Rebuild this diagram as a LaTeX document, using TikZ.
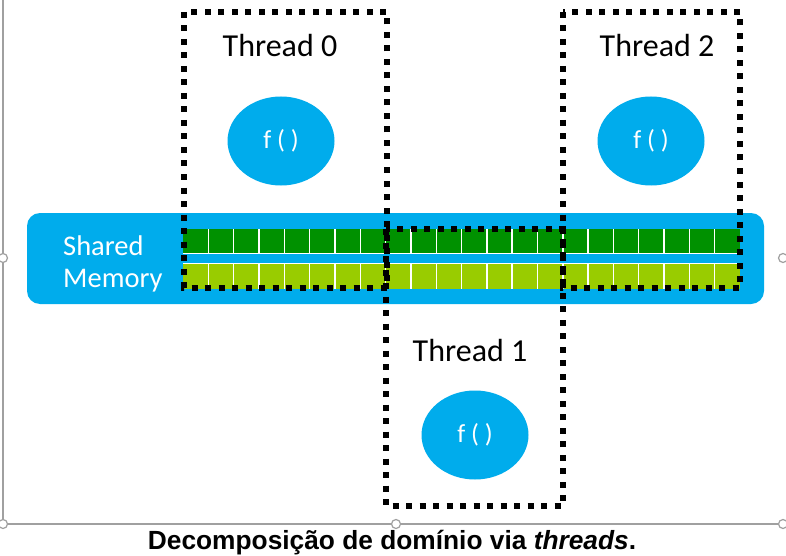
\documentclass[tikz,border=0pt]{standalone}
\usepackage{fontspec}
\setmainfont{Carlito}
\newfontfamily\capfont{Liberation Sans}
\definecolor{membl}{RGB}{0,172,236}
\definecolor{dkgr}{RGB}{0,145,0}
\definecolor{ltgr}{RGB}{153,204,0}
\definecolor{selgray}{RGB}{160,160,160}
\tikzset{
  dotbox/.style={draw=black,line width=6pt,dash pattern=on 6pt off 7.5pt},
  fellipse/.style={ellipse,fill=membl,minimum width=107pt,minimum height=89pt,inner sep=0pt,text=white,font=\fontsize{26}{30}\selectfont},
  tlabel/.style={anchor=base,font=\fontsize{32}{38}\selectfont,text=black},
  handle/.style={circle,draw=selgray,fill=white,line width=1.2pt,minimum size=9pt,inner sep=0pt}
}
\usetikzlibrary{shapes.geometric}
\begin{document}
\begin{tikzpicture}[x=1pt,y=-1pt]
\useasboundingbox (0,0) rectangle (786,556);
\fill[white] (0,0) rectangle (786,556);
% selection frame
\coordinate (hl) at (3,258);
\coordinate (hr) at (783,258);
\coordinate (bl) at (3,524);
\coordinate (bm) at (396,524);
\coordinate (br) at (783,524);
\draw[selgray,line width=1.3pt] (3,0) -- (bl) -- (br);
% shared memory bar
\fill[membl,rounded corners=13pt] (27,213) rectangle (764,304);
\node[anchor=base west,text=white,font=\fontsize{28.5}{33}\selectfont,inner sep=0pt] (sh) at (63,255) {Shared};
\node[anchor=base west,text=white,font=\fontsize{28.5}{33}\selectfont,inner sep=0pt] (mem) at (63,287) {Memory};
\foreach \k in {0,...,21}{
  \fill[dkgr] ({183+\k*25.32},229) rectangle ({183+(\k+1)*25.32},254);
  \fill[ltgr] ({183+\k*25.32},263) rectangle ({183+(\k+1)*25.32},289);
}
\foreach \k in {1,...,21}{
  \draw[white,line width=1.4pt] ({183+\k*25.32},229) -- ({183+\k*25.32},254);
  \draw[white,line width=1.4pt] ({183+\k*25.32},263) -- ({183+\k*25.32},289);
}
\draw[white,line width=1pt] (183,253.5) -- (740,253.5);
\draw[white,line width=1pt] (183,263.5) -- (740,263.5);
% thread boxes
\draw[dotbox] (184,12) rectangle (387,288);
\draw[dotbox] (563,12) rectangle (740,288);
\draw[dotbox] (386,229) rectangle (563,506);
% labels
\node[tlabel] (t0) at (280,57) {Thread 0};
\node[tlabel] (t2) at (657,57) {Thread 2};
\node[tlabel] (t1) at (470,361) {Thread 1};
\node[fellipse] (f0) at (281,141) {f ( )};
\node[fellipse] (f2) at (651,141) {f ( )};
\node[fellipse] (f1) at (475,435) {f ( )};
% handles
\node[handle] (h1) at (hl) {};
\node[handle] (h2) at (hr) {};
\node[handle] (h3) at (bl) {};
\node[handle] (h4) at (bm) {};
\node[handle] (h5) at (br) {};
% caption
\node[anchor=base,font=\capfont\bfseries\fontsize{26.3}{30}\selectfont] (cap) at (392,549) {Decomposição de domínio via \textit{threads}.};
\end{tikzpicture}
\end{document}
